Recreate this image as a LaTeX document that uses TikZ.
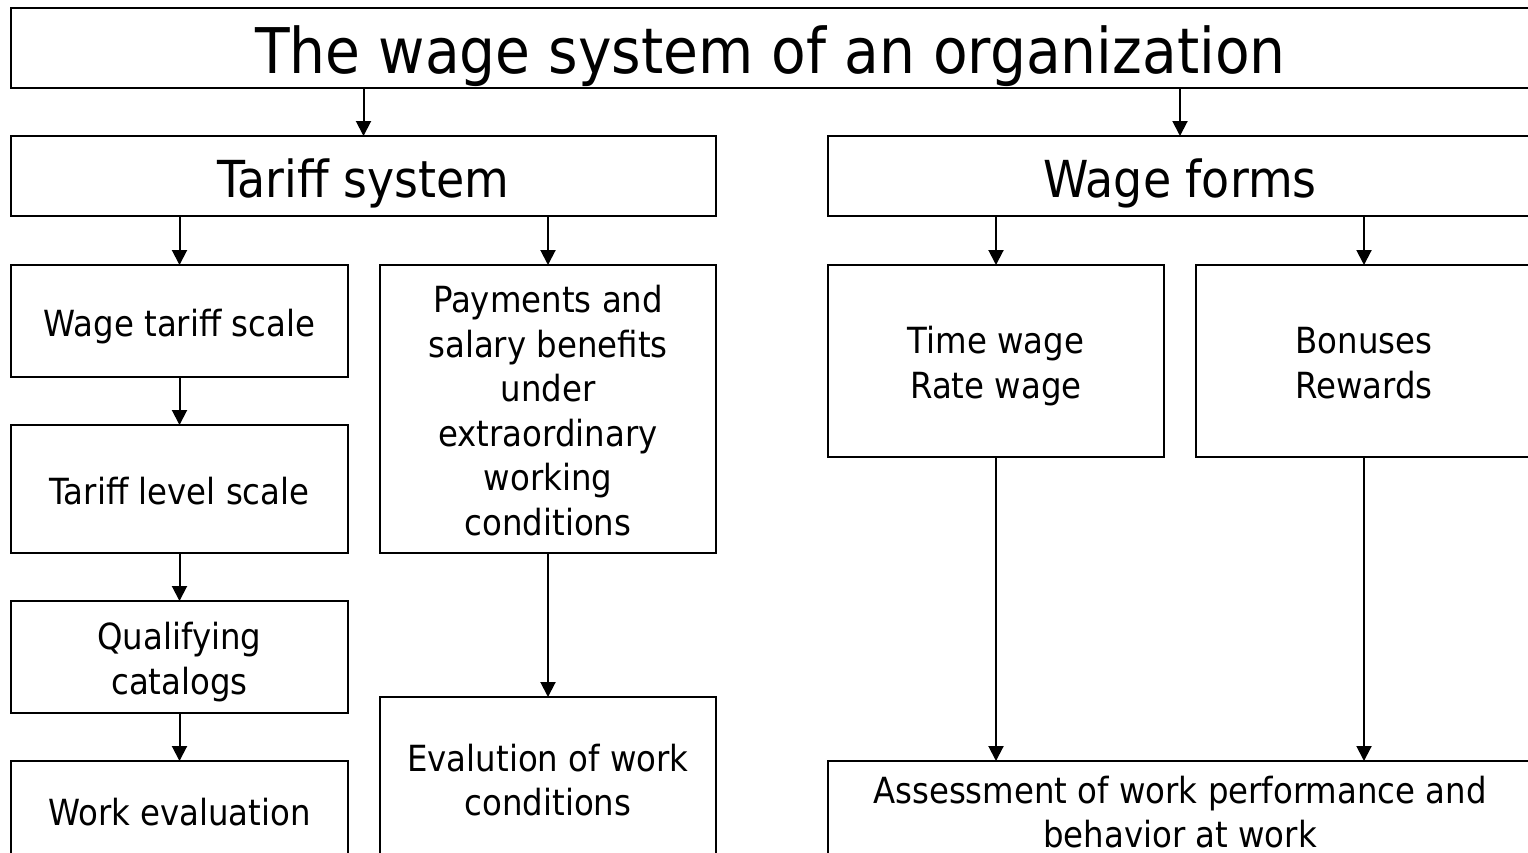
\documentclass[tikz,border=0pt]{standalone}
\usepackage{fontspec}
\setmainfont{DejaVu Sans}[FakeStretch=0.9]
\usepackage{tikz}
\usetikzlibrary{positioning, arrows.meta}

\newcommand{\hs}{\rule{0pt}{1.08em}}
\newcommand{\ds}{\rule[-0.24em]{0pt}{0.24em}}

\tikzset{
    frame/.style={draw, line width=2.6pt, inner sep=0pt, outer sep=0pt, align=center},
    struts/.style={execute at begin node={\hs}, execute at end node={\ds}},
    box/.style={frame, struts, font=\fontsize{36}{44.5}\selectfont},
    headbox/.style={frame, struts, minimum height=80pt, font=\fontsize{51}{60}\selectfont},
    titlebox/.style={frame, minimum height=80pt, font=\fontsize{63}{70}\selectfont,
        execute at begin node={\rule{0pt}{1.02em}}},
    arr/.style={line width=2pt, -{Triangle[length=15pt, width=15pt]}}
}

\begin{document}
\begin{tikzpicture}[x=1pt, y=1pt]
    \useasboundingbox (0,0) rectangle (1528,-852);

    \node[titlebox, anchor=north west, minimum width=1519pt] (top) at (11,-8) {The wage system of an organization};
    \node[headbox, below right=48pt and 0pt of top.south west, minimum width=705pt] (tariff) {Tariff system};
    \node[headbox, right=112pt of tariff, minimum width=704pt] (forms) {Wage forms};

    \node[box, below right=49pt and 0pt of tariff.south west, minimum width=337pt, minimum height=112pt] (wts) {Wage tariff scale};
    \node[box, below=48pt of wts, minimum width=337pt, minimum height=128pt] (tls) {Tariff level scale};
    \node[box, below=48pt of tls, minimum width=337pt, minimum height=112pt] (qc) {\hs Qualifying\\catalogs\ds};
    \node[box, below=48pt of qc, minimum width=337pt, minimum height=99pt] (we) {Work evaluation};

    \node[box, below right=0pt and 32pt of wts.north east, minimum width=336pt, minimum height=288pt] (pay)
        {\hs Payments and\\salary benefits\\under\\extraordinary\\working\\conditions\ds};
    \node[box, below=144pt of pay, minimum width=336pt, minimum height=163pt] (ewc) {\hs Evalution of work\\conditions\ds};

    \node[box, below right=49pt and 0pt of forms.south west, minimum width=336pt, minimum height=192pt] (time) {\hs Time wage\\Rate wage\ds};
    \node[box, below right=0pt and 32pt of time.north east, minimum width=336pt, minimum height=192pt] (bonus) {\hs Bonuses\\Rewards\ds};
    \node[box, below right=304pt and 0pt of time.south west, minimum width=704pt, minimum height=99pt] (assess)
        {\hs Assessment of work performance and\\behavior at work\ds};

    \path[arr]
        (top.south -| tariff.north) edge (tariff.north)
        (top.south -| forms.north) edge (forms.north)
        (tariff.south -| wts.north) edge (wts.north)
        (tariff.south -| pay.north) edge (pay.north)
        (wts) edge (tls)
        (tls) edge (qc)
        (qc) edge (we)
        (pay) edge (ewc)
        (forms.south -| time.north) edge (time.north)
        (forms.south -| bonus.north) edge (bonus.north)
        (time.south) edge (assess.north -| time.south)
        (bonus.south) edge (assess.north -| bonus.south)
        ;
\end{tikzpicture}
\end{document}
